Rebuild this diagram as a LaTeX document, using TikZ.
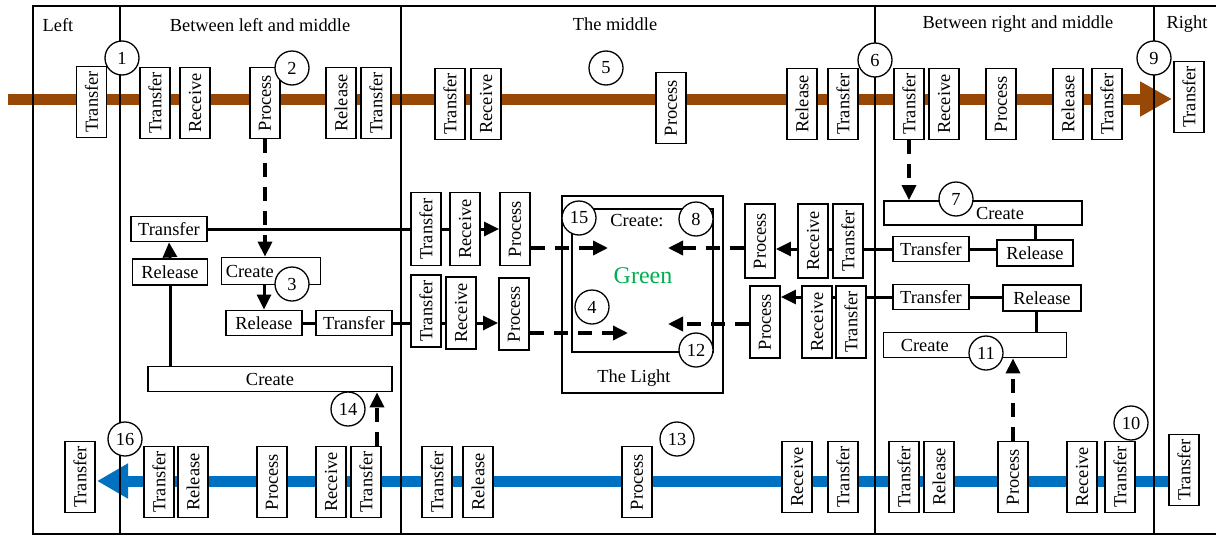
\documentclass[tikz,border=0pt]{standalone}
\usepackage{fontspec}
\setmainfont{Liberation Serif}
\usetikzlibrary{arrows.meta,positioning,calc}
\definecolor{brownflow}{RGB}{151,72,6}
\definecolor{blueflow}{RGB}{0,112,192}
\definecolor{greentext}{RGB}{0,176,80}

\tikzset{
  vbox/.style={draw, line width=1.8pt, fill=white, rotate=90, minimum width=71pt, minimum height=30pt, inner sep=1pt},
  hbox/.style={draw, line width=1.8pt, fill=white, minimum height=25pt, inner sep=1pt},
  num/.style={circle, draw, line width=1.3pt, fill=white, minimum size=34pt, inner sep=0pt},
  frame/.style={line width=1.8pt},
  link/.style={line width=3pt},
  solarrow/.style={line width=3pt, -{Triangle[length=15pt,width=14pt]}},
  dasharrow/.style={line width=3.5pt, dash pattern=on 14pt off 10pt, -{Triangle[length=15pt,width=14pt]}},
}

\begin{document}
\begin{tikzpicture}[x=1pt, y=-1pt, font=\fontsize{18.4}{22}\selectfont]
  \fill[white] (0,0) rectangle (1216,536);
  \useasboundingbox (0,0) rectangle (1216,536);

  % Right-hand end boxes
  \node[vbox] (t17) at (1189,97) {Transfer};
  \node[vbox] (b17) at (1184,470) {Transfer};

  % Flows
  \coordinate (brS) at (8,99);
  \coordinate (brE) at (1172,99);
  \coordinate (blE) at (97,481);
  \draw[brownflow, line width=11pt, -{Triangle[length=32pt,width=33pt]}] (brS) -- (brE);
  \draw[blueflow, line width=11pt, -{Triangle[length=31pt,width=33pt]}] (b17.north |- blE) -- (blE);

  % Frame
  \draw[frame] (1216,6) -- (33,6) -- (33,534) -- (1216,534);
  \draw[frame] (120,6) -- (120,534);
  \draw[frame] (401,6) -- (401,534);
  \draw[frame] (875,6) -- (875,534);
  \draw[frame] (1154,6) -- (1154,534);
  \node (hL) at (58,25) {Left};
  \node (hLM) at (260,25) {Between left and middle};
  \node (hM) at (615,24) {The middle};
  \node (hRM) at (1018,24) {Between right and middle};
  \node (hR) at (1187,24) {Right};

  % Top row
  \node[vbox] (t1) at (91.5,102) {Transfer};
  \node[vbox] (t2) at (155,103) {Transfer};
  \node[vbox] (t3) at (195,103) {Receive};
  \node[vbox] (t4) at (265,103) {Process};
  \node[vbox] (t5) at (341,103) {Release};
  \node[vbox] (t6) at (376,103) {Transfer};
  \node[vbox] (t7) at (450,104) {Transfer};
  \node[vbox] (t8) at (486,104) {Receive};
  \node[vbox] (t9) at (671,108) {Process};
  \node[vbox] (t10) at (802,104) {Release};
  \node[vbox] (t11) at (843,104) {Transfer};
  \node[vbox] (t12) at (909,104) {Transfer};
  \node[vbox] (t13) at (944,104) {Receive};
  \node[vbox] (t14) at (1001,104) {Process};
  \node[vbox] (t15) at (1068,104) {Release};
  \node[vbox] (t16) at (1107,104) {Transfer};

  % Bottom row
  \node[vbox] (b1) at (80,477) {Transfer};
  \node[vbox] (b2) at (159,482) {Transfer};
  \node[vbox] (b3) at (193,482) {Release};
  \node[vbox] (b4) at (272,482) {Process};
  \node[vbox] (b5) at (331,482) {Receive};
  \node[vbox] (b6) at (366,482) {Transfer};
  \node[vbox] (b7) at (437,482) {Transfer};
  \node[vbox] (b8) at (478,482) {Release};
  \node[vbox] (b9) at (637,482) {Process};
  \node[vbox] (b10) at (797,477) {Receive};
  \node[vbox] (b11) at (843,477) {Transfer};
  \node[vbox] (b12) at (904,477) {Transfer};
  \node[vbox] (b13) at (939,477) {Release};
  \node[vbox] (b14) at (1013,477) {Process};
  \node[vbox] (b15) at (1082,477) {Receive};
  \node[vbox] (b16) at (1120,477) {Transfer};

  % Between left and middle
  \node[hbox, minimum width=76pt] (trA) at (169,229) {Transfer};
  \node[hbox, minimum width=75pt, minimum height=26pt] (rlA) at (170,272) {Release};
  \node[hbox, minimum width=99pt, minimum height=27pt] (crA) at (271,271) {};
  \node[inner sep=0pt, anchor=west] (crAt) at ([xshift=5pt]crA.west) {Create};
  \node[hbox, minimum width=76pt] (rlB) at (264,323) {Release};
  \node[hbox, minimum width=76pt] (trB) at (354,323) {Transfer};
  \node[hbox, minimum width=244pt] (crB) at (270,379) {Create};

  % The middle
  \node[vbox, minimum width=73pt] (mtA) at (426,229) {Transfer};
  \node[vbox, minimum width=73pt] (mrA) at (465,229) {Receive};
  \node[vbox, minimum width=73pt] (mpA) at (515,229) {Process};
  \node[vbox, minimum width=72pt] (mtB) at (426,311) {Transfer};
  \node[vbox, minimum width=72pt] (mrB) at (461,313) {Receive};
  \node[vbox, minimum width=72pt] (mpB) at (514,314) {Process};
  \node[draw, line width=1.8pt, minimum width=161pt, minimum height=197pt] (light) at (642.5,294.5) {};
  \node[draw, line width=1.8pt, minimum width=141pt, minimum height=143pt] (green) at (642.5,280.5) {};
  \node (crL) at (637,221) {Create:};
  \node[text=greentext, font=\fontsize{24}{28}\selectfont] (grL) at (643,276) {Green};
  \node (lgL) at (634,378) {The Light};
  \node[vbox, minimum width=74pt] (rpA) at (760,241) {Process};
  \node[vbox, minimum width=74pt] (rrA) at (813,241) {Receive};
  \node[vbox, minimum width=74pt] (rtA) at (848,241) {Transfer};
  \node[vbox, minimum width=72pt] (rpB) at (765,322) {Process};
  \node[vbox, minimum width=72pt] (rrB) at (817,322) {Receive};
  \node[vbox, minimum width=72pt] (rtB) at (851,322) {Transfer};

  % Between right and middle
  \node[hbox, minimum width=198pt, minimum height=24pt] (crC) at (983,213) {};
  \node[inner sep=0pt] (crCt) at ([xshift=17pt]crC.center) {Create};
  \node[hbox, minimum width=76pt] (trC) at (931,249) {Transfer};
  \node[hbox, minimum width=76pt, minimum height=26pt] (rlC) at (1035,253) {Release};
  \node[hbox, minimum width=76pt] (trD) at (931,297) {Transfer};
  \node[hbox, minimum width=78pt, minimum height=26pt] (rlD) at (1042,298) {Release};
  \node[hbox, minimum width=183pt] (crD) at (975,345) {};
  \node[inner sep=0pt, anchor=west] (crDt) at ([xshift=18pt]crD.west) {Create};

  % Edges, left side
  \draw[link] (trA.east) -- (trA.east -| mtA.north);
  \draw[link] (mtA.south) -- (mrA.north);
  \draw[solarrow] (mrA.south) -- (mpA.north);
  \draw[dasharrow] (t4.west) -- (t4.west |- crA.north);
  \draw[solarrow] (rlA.north) -- (trA.south);
  \draw[link] (crB.north -| rlA) -- (rlA.south);
  \draw[solarrow] (crA.south -| rlB) -- (rlB.north);
  \draw[link] (rlB.east) -- (trB.west);
  \draw[link] (trB.east) -- (trB.east -| mtB.north);
  \draw[link] (mtB.south |- trB) -- (mrB.north |- trB);
  \draw[solarrow] (mrB.south |- trB) -- (mpB.north |- trB);
  \draw[dasharrow] ([xshift=11pt]b6.east) -- ([xshift=11pt]b6.east |- crB.south);

  % Edges into the light
  \coordinate (gA) at (608,248);
  \coordinate (gB) at (628,333);
  \coordinate (gC) at (668,248);
  \coordinate (gD) at (668,324);
  \draw[dasharrow] (mpA.south |- gA) -- (gA);
  \draw[dasharrow] (mpB.south |- gB) -- (gB);
  \draw[dasharrow] (rpA.north |- gC) -- (gC);
  \draw[dasharrow] (rpB.north |- gD) -- (gD);

  % Edges, right side
  \draw[link] (trC.west) -- (rtA.south |- trC);
  \draw[link] (rtA.north |- trC) -- (rrA.south |- trC);
  \draw[solarrow] (rrA.north |- trC) -- (rpA.south |- trC);
  \draw[link] (trC.east) -- (trC.east -| rlC.west);
  \draw[link] (rlC.north) -- (rlC.north |- crC.south);
  \draw[dasharrow] (t12.west) -- (t12.west |- crC.north);
  \draw[link] (trD.west) -- (rtB.south |- trD);
  \draw[link] (rtB.north |- trD) -- (rrB.south |- trD);
  \draw[solarrow] (rrB.north |- trD) -- (rpB.south |- trD);
  \draw[link] (trD.east) -- (trD.east -| rlD.west);
  \draw[link] ([xshift=-6pt]rlD.south) -- ([xshift=-6pt]rlD.south |- crD.north);
  \draw[dasharrow] (b14.east) -- (b14.east |- crD.south);

  % Steps
  \node[num] (n1) at (122,58) {1};
  \node[num] (n2) at (292,68) {2};
  \node[num] (n3) at (292,284) {3};
  \node[num] (n4) at (592,307) {4};
  \node[num] (n5) at (606,68) {5};
  \node[num] (n6) at (875,60) {6};
  \node[num] (n7) at (956,199) {7};
  \node[num] (n8) at (696,219) {8};
  \node[num] (n9) at (1154,58) {9};
  \node[num] (n10) at (1131,423) {10};
  \node[num] (n11) at (986,353) {11};
  \node[num] (n12) at (696,350) {12};
  \node[num] (n13) at (677,439) {13};
  \node[num] (n14) at (348,409) {14};
  \node[num] (n15) at (579,218) {15};
  \node[num] (n16) at (125,439) {16};
\end{tikzpicture}
\end{document}
